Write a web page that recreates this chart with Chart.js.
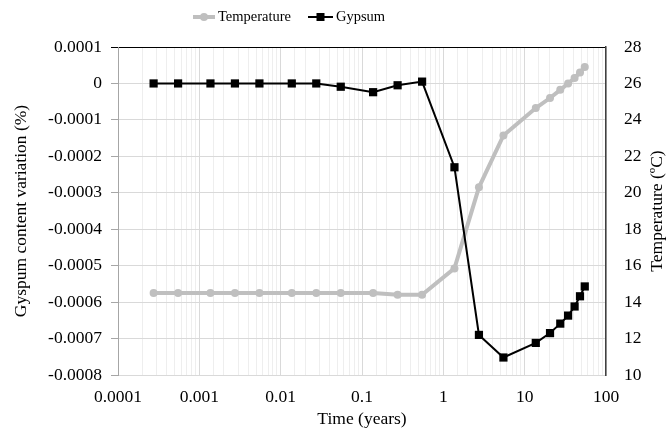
<!DOCTYPE html>
<html><head><meta charset="utf-8">
<script src="https://cdn.jsdelivr.net/npm/chart.js@4/dist/chart.umd.min.js"></script>
<style>html,body{margin:0;padding:0;background:#fff}</style>
</head><body>
<canvas id="c" width="670" height="435" style="width:670px;height:435px;display:block"></canvas>
<script>
// ---- data ----
const timeYears = [0.000274, 0.000548, 0.00137, 0.00274, 0.00548, 0.0137, 0.0274, 0.0548, 0.137, 0.274, 0.548, 1.37, 2.74, 5.48, 13.7, 20.5, 27.4, 34.2, 41.1, 47.9, 54.8];
const gypsumVariation = [0, 0, 0, 0, 0, 0, 0, -0.000009, -0.000024, -0.000005, 0.000005, -0.00023, -0.00069, -0.000752, -0.000712, -0.000685, -0.000659, -0.000637, -0.000612, -0.000584, -0.000557];
const temperatureC = [14.5, 14.5, 14.5, 14.5, 14.5, 14.5, 14.5, 14.5, 14.5, 14.4, 14.4, 15.85, 20.3, 23.15, 24.65, 25.2, 25.65, 26.0, 26.3, 26.6, 26.9];
const xTickLabels = ['0.0001', '0.001', '0.01', '0.1', '1', '10', '100'];
const seriesNames = ['Temperature', 'Gypsum'];
const xTitle = 'Time (years)';
const leftTitle = 'Gyspum content variation (%)';
const rightTitle = 'Temperature (ºC)';

const FONT = '"Liberation Serif", "Times New Roman", serif';
const FS = 17.5;
const TEMP_COLOR = '#bfbfbf';
const GYP_COLOR = '#000000';

function isPow10(v) {
  const e = Math.round(Math.log10(v));
  return Math.abs(v / Math.pow(10, e) - 1) < 1e-6;
}

const customText = {
  id: 'customText',
  afterDraw(chart) {
    const ctx = chart.ctx;
    ctx.save();
    // legend
    const ly = 17;
    ctx.font = '14.5px ' + FONT;
    ctx.textBaseline = 'middle';
    ctx.textAlign = 'left';
    // Temperature entry
    ctx.strokeStyle = TEMP_COLOR; ctx.lineWidth = 4;
    ctx.beginPath(); ctx.moveTo(193, ly); ctx.lineTo(215, ly); ctx.stroke();
    ctx.fillStyle = TEMP_COLOR;
    ctx.beginPath(); ctx.arc(204, ly, 4, 0, Math.PI * 2); ctx.fill();
    ctx.fillStyle = '#000';
    ctx.fillText(seriesNames[0], 218, ly);
    // Gypsum entry
    ctx.strokeStyle = GYP_COLOR; ctx.lineWidth = 2;
    ctx.beginPath(); ctx.moveTo(308, ly); ctx.lineTo(333, ly); ctx.stroke();
    ctx.fillStyle = GYP_COLOR;
    ctx.fillRect(316.5, ly - 4, 8, 8);
    ctx.fillStyle = '#000';
    ctx.fillText(seriesNames[1], 336, ly);
    // right axis title (reads bottom-to-top)
    const ca = chart.chartArea;
    ctx.translate(657, (ca.top + ca.bottom) / 2);
    ctx.rotate(-Math.PI / 2);
    ctx.textAlign = 'center';
    ctx.font = FS + 'px ' + FONT;
    ctx.fillText(rightTitle, 0, 0);
    ctx.restore();
  }
};

new Chart(document.getElementById('c'), {
  type: 'line',
  data: {
    datasets: [
      {
        label: seriesNames[0],
        data: timeYears.map((t, i) => ({x: t, y: temperatureC[i]})),
        yAxisID: 'y2',
        borderColor: TEMP_COLOR,
        backgroundColor: TEMP_COLOR,
        borderWidth: 4,
        pointRadius: 4,
        pointStyle: 'circle',
        pointBorderWidth: 0,
        tension: 0,
        order: 1
      },
      {
        label: seriesNames[1],
        data: timeYears.map((t, i) => ({x: t, y: gypsumVariation[i]})),
        yAxisID: 'y',
        borderColor: GYP_COLOR,
        backgroundColor: GYP_COLOR,
        borderWidth: 2,
        pointRadius: 5.8,
        pointStyle: 'rect',
        pointBorderWidth: 0,
        tension: 0,
        order: 0
      }
    ]
  },
  options: {
    responsive: false,
    animation: false,
    devicePixelRatio: 1,
    layout: {padding: {top: 47, left: 0, right: 0, bottom: 0}},
    plugins: {legend: {display: false}, tooltip: {enabled: false}},
    scales: {
      x: {
        type: 'logarithmic',
        position: 'bottom',
        min: 0.0001,
        max: 100,
        afterFit: s => { s.height = 60; },
        grid: {
          drawTicks: false,
          color: c => (c.tick && isPow10(c.tick.value)) ? '#d9d9d9' : '#eeeeee',
          lineWidth: 1
        },
        border: {display: true, color: '#d9d9d9'},
        ticks: {
          autoSkip: false,
          maxRotation: 0,
          padding: 12,
          color: '#000',
          font: {family: FONT, size: FS},
          callback: v => isPow10(v) ? xTickLabels[Math.round(Math.log10(v)) + 4] : ''
        },
        title: {display: true, text: xTitle, color: '#000', font: {family: FONT, size: FS}, padding: {top: 0, bottom: 5}}
      },
      y: {
        position: 'left',
        min: -0.0008,
        max: 0.0001,
        afterFit: s => { s.width = 118; },
        grid: {
          drawTicks: true,
          tickLength: 7,
          color: c => (c.tick && Math.abs(c.tick.value - 0.0001) < 1e-9) ? '#000000' : '#d9d9d9',
          tickColor: c => (c.tick && Math.abs(c.tick.value - 0.0001) < 1e-9) ? '#000000' : '#a6a6a6'
        },
        border: {display: true, color: '#a6a6a6'},
        ticks: {
          stepSize: 0.0001,
          padding: 9,
          color: '#000',
          font: {family: FONT, size: FS},
          callback: v => { const r = Math.round(v * 1e4) / 1e4; return r === 0 ? '0' : r.toFixed(4); }
        },
        title: {display: true, text: leftTitle, color: '#000', font: {family: FONT, size: FS}, padding: {top: 11, bottom: 0}}
      },
      y2: {
        position: 'right',
        min: 10,
        max: 28,
        afterFit: s => { s.width = 64; },
        grid: {display: false, drawOnChartArea: false},
        border: {display: true, color: '#404040', width: 1.5},
        ticks: {
          stepSize: 2,
          padding: 10,
          color: '#000',
          font: {family: FONT, size: FS}
        }
      }
    }
  },
  plugins: [customText]
});
</script>
</body></html>
